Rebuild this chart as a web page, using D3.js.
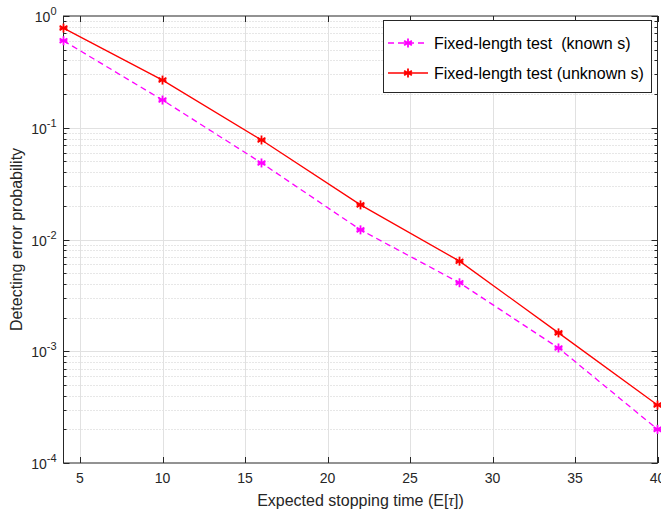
<!DOCTYPE html>
<html lang="en">
<head>
  <meta charset="UTF-8">
  <title>Detecting error probability</title>
  <style>
  body { margin: 0; background: #fff; }
  #chart svg { display: block; font-family: "Liberation Sans", Arial, sans-serif; }
  #chart text { white-space: pre; }
  </style>
</head>
<body>
  <div id="chart"></div>
  <script src="https://cdn.jsdelivr.net/npm/d3@7"></script>
  <script>
    // data
    const stopTimes = [4, 10, 16, 22, 28, 34, 40];
    const knownS = [0.60, 0.177, 0.0484, 0.0122, 0.0041, 0.00107, 0.00020];
    const unknownS = [0.78, 0.267, 0.0777, 0.0204, 0.0064, 0.00146, 0.00033];
    const xTicks = [5, 10, 15, 20, 25, 30, 35, 40];
    const yDecades = [-4, -3, -2, -1, 0];
    const seriesNames = ['Fixed-length test  (known s)', 'Fixed-length test (unknown s)'];

    const W = 661, H = 511;
    const m = {left: 63.5, right: 3.5, top: 16, bottom: 48};

    const svg = d3.select('#chart').append('svg')
      .attr('width', W).attr('height', H);

    const x = d3.scaleLinear().domain([4, 40]).range([m.left, W - m.right]);
    const y = d3.scaleLog().domain([1e-4, 1]).range([H - m.bottom, m.top]);

    const g = svg.append('g');

    // minor grid (dotted)
    const minors = [];
    yDecades.slice(0, -1).forEach(e => {
      for (let k = 2; k <= 9; k++) minors.push(k * Math.pow(10, e));
    });
    g.selectAll('line.minor').data(minors).enter().append('line')
      .attr('x1', m.left).attr('x2', W - m.right)
      .attr('y1', d => Math.round(y(d)) + 0.5).attr('y2', d => Math.round(y(d)) + 0.5)
      .attr('stroke', '#cfcfcf').attr('stroke-width', 1)
      .attr('stroke-dasharray', '1,2');

    // major grid
    g.selectAll('line.hgrid').data(yDecades.slice(1, -1)).enter().append('line')
      .attr('x1', m.left).attr('x2', W - m.right)
      .attr('y1', d => Math.round(y(Math.pow(10, d))) + 0.5)
      .attr('y2', d => Math.round(y(Math.pow(10, d))) + 0.5)
      .attr('stroke', '#e1e1e1').attr('stroke-width', 1);
    g.selectAll('line.vgrid').data(xTicks.slice(0, -1)).enter().append('line')
      .attr('x1', d => Math.round(x(d)) + 0.5).attr('x2', d => Math.round(x(d)) + 0.5)
      .attr('y1', m.top).attr('y2', H - m.bottom)
      .attr('stroke', '#e1e1e1').attr('stroke-width', 1);

    // ticks (inward) on all four sides
    const tk = g.append('g').attr('stroke', '#262626').attr('stroke-width', 1);
    xTicks.forEach(t => {
      const px = Math.round(x(t)) + 0.5;
      tk.append('line').attr('x1', px).attr('x2', px).attr('y1', H - m.bottom).attr('y2', H - m.bottom - 6);
      tk.append('line').attr('x1', px).attr('x2', px).attr('y1', m.top).attr('y2', m.top + 6);
    });
    yDecades.forEach(e => {
      const py = Math.round(y(Math.pow(10, e))) + 0.5;
      tk.append('line').attr('x1', m.left).attr('x2', m.left + 6).attr('y1', py).attr('y2', py);
      tk.append('line').attr('x1', W - m.right).attr('x2', W - m.right - 6).attr('y1', py).attr('y2', py);
    });
    minors.forEach(v => {
      const py = Math.round(y(v)) + 0.5;
      tk.append('line').attr('x1', m.left).attr('x2', m.left + 3).attr('y1', py).attr('y2', py);
      tk.append('line').attr('x1', W - m.right).attr('x2', W - m.right - 3).attr('y1', py).attr('y2', py);
    });

    // box
    g.append('rect')
      .attr('x', m.left).attr('y', m.top)
      .attr('width', W - m.right - m.left).attr('height', H - m.bottom - m.top)
      .attr('fill', 'none').attr('stroke', '#262626').attr('stroke-width', 1);

    // x tick labels
    g.selectAll('text.xt').data(xTicks).enter().append('text')
      .attr('x', d => x(d)).attr('y', H - m.bottom + 20)
      .attr('text-anchor', 'middle').attr('font-size', 14).attr('fill', '#262626')
      .text(d => d);

    // y tick labels: 10^e
    yDecades.forEach(e => {
      const t = g.append('text')
        .attr('x', m.left - 7).attr('y', y(Math.pow(10, e)) + 6)
        .attr('text-anchor', 'end').attr('font-size', 14).attr('fill', '#262626');
      t.append('tspan').text('10');
      t.append('tspan').attr('dy', -7).attr('font-size', 11).text(e);
    });

    // axis labels
    const xl = svg.append('text')
      .attr('x', x(22)).attr('y', H - 5)
      .attr('text-anchor', 'middle').attr('font-size', 16).attr('fill', '#262626');
    xl.append('tspan').text('Expected stopping time (E[');
    xl.append('tspan').attr('font-family', '"Liberation Serif", serif').attr('font-style', 'italic').text('τ');
    xl.append('tspan').text('])');

    svg.append('text')
      .attr('transform', `translate(22,${(m.top + H - m.bottom) / 2}) rotate(-90)`)
      .attr('text-anchor', 'middle').attr('font-size', 16).attr('fill', '#262626')
      .text('Detecting error probability');

    // series
    const series = [
      {vals: knownS, color: '#ff00ff', dash: '6,4'},
      {vals: unknownS, color: '#ff0000', dash: null}
    ];
    const line = d3.line().x(d => x(d[0])).y(d => y(d[1]));

    const star = (sel, cx, cy, r, color) => {
      for (let a = 0; a < 3; a++) {
        const ang = Math.PI / 2 + a * Math.PI / 3;
        sel.append('line')
          .attr('x1', cx - r * Math.cos(ang)).attr('y1', cy - r * Math.sin(ang))
          .attr('x2', cx + r * Math.cos(ang)).attr('y2', cy + r * Math.sin(ang))
          .attr('stroke', color).attr('stroke-width', 1.8);
      }
      sel.append('line')
        .attr('x1', cx - r * 0.85).attr('y1', cy).attr('x2', cx + r * 0.85).attr('y2', cy)
        .attr('stroke', color).attr('stroke-width', 1.8);
    };

    series.forEach(s => {
      const pts = stopTimes.map((t, i) => [t, s.vals[i]]);
      g.append('path').datum(pts).attr('d', line)
        .attr('fill', 'none').attr('stroke', s.color).attr('stroke-width', 1.3)
        .attr('stroke-dasharray', s.dash);
      const mk = g.append('g');
      pts.forEach(p => star(mk, x(p[0]), y(p[1]), 4.5, s.color));
    });

    // legend
    const lg = svg.append('g');
    lg.append('rect').attr('x', 383.5).attr('y', 20.5).attr('width', 268).attr('height', 72)
      .attr('fill', '#fff').attr('stroke', '#262626').attr('stroke-width', 1);
    series.forEach((s, i) => {
      const ly = 43 + i * 30;
      lg.append('line').attr('x1', 388).attr('x2', 428).attr('y1', ly).attr('y2', ly)
        .attr('stroke', s.color).attr('stroke-width', 1.3).attr('stroke-dasharray', s.dash);
      star(lg, 408, ly, 4.5, s.color);
      lg.append('text').attr('x', 434).attr('y', ly + 6)
        .attr('font-size', 16).attr('fill', '#000').text(seriesNames[i]);
    });
  </script>
</body>
</html>
